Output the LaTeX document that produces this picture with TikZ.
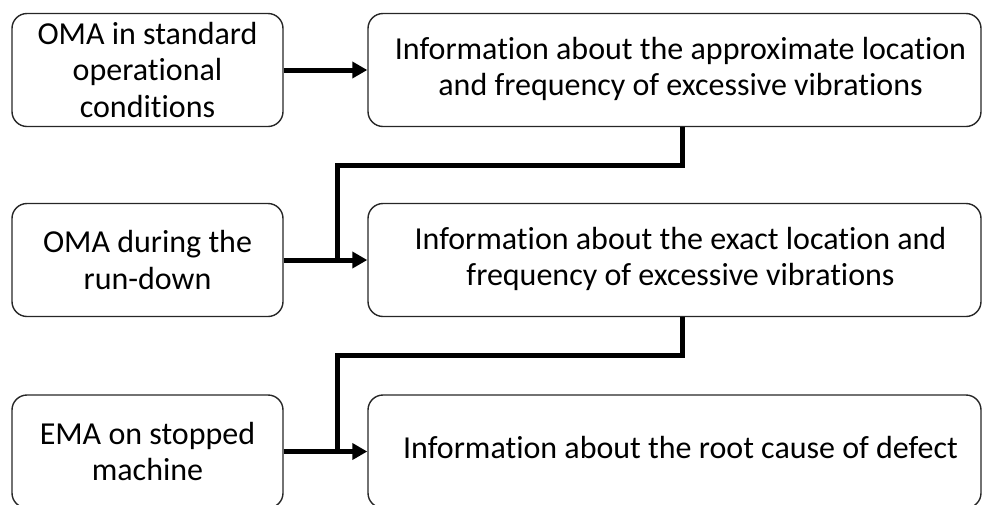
\documentclass[tikz,border=0pt]{standalone}
\usepackage{fontspec}
\setmainfont[Ligatures=NoCommon]{Carlito}
\usetikzlibrary{arrows.meta}
\begin{document}
\begin{tikzpicture}[x=1pt,y=-1pt,
  box/.style={draw=black!85, line width=1.4pt, rounded corners=15pt, inner sep=0pt,
    font=\fontsize{32}{36.5}\selectfont, align=center},
  lbox/.style={box, minimum width=271pt, minimum height=113pt},
  rbox/.style={box, minimum width=613pt, minimum height=113pt},
  arr/.style={line width=5pt, -{Triangle[length=15pt,width=16pt]}},
  conn/.style={line width=5pt, line join=miter}
]
\useasboundingbox (0,0) rectangle (982,504);
% left boxes
\node[lbox] (l1) at (147.5,70) {OMA in standard\\operational\\conditions};
\node[lbox] (l2) at (147.5,260) {OMA during the\\run-down};
\node[lbox] (l3) at (147.5,451.5) {EMA on stopped\\machine};
% right boxes
\node[rbox] (r1) at (674.5,70) {\begin{tabular}{@{\hspace{12pt}}c@{}}Information about the approximate location\\and frequency of excessive vibrations\end{tabular}};
\node[rbox] (r2) at (674.5,260) {\begin{tabular}{@{\hspace{12pt}}c@{}}Information about the exact location and\\frequency of excessive vibrations\end{tabular}};
\node[rbox] (r3) at (674.5,451.5) {\begin{tabular}{@{\hspace{12pt}}c@{}}Information about the root cause of defect\end{tabular}};
% arrows
\draw[arr] (l1.east) -- (r1.west);
\draw[arr] (l2.east) -- (r2.west);
\draw[arr] (l3.east) -- (r3.west);
% connectors
\coordinate (k1) at (682,165);
\coordinate (m1) at (337,165);
\coordinate (k2) at (682,355);
\coordinate (m2) at (337,355);
\draw[conn] (r1.south -| k1) -- (k1) -- (m1) -- (m1 |- l2.east);
\draw[conn] (r2.south -| k2) -- (k2) -- (m2) -- (m2 |- l3.east);
\end{tikzpicture}
\end{document}
